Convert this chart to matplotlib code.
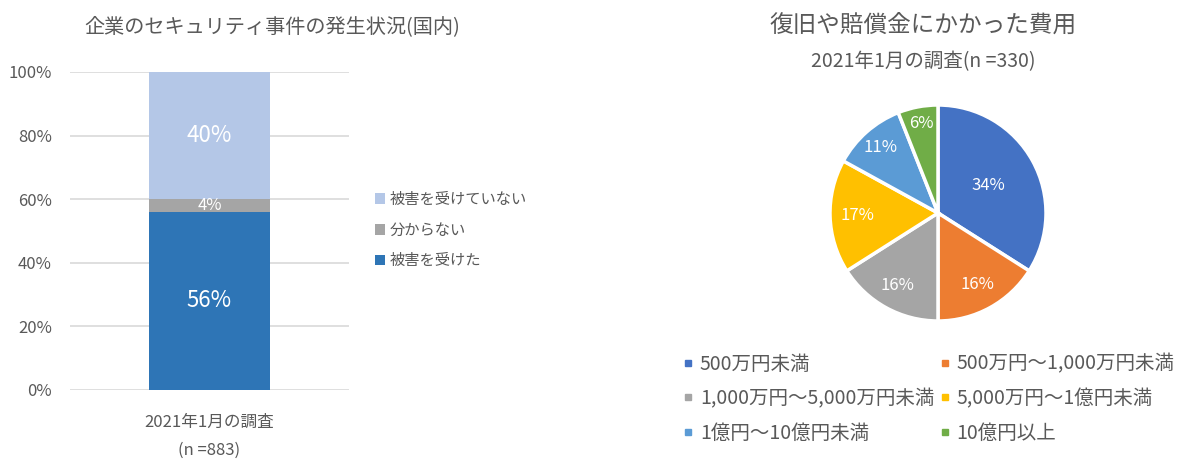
import numpy as np
import matplotlib.pyplot as plt
from matplotlib.lines import Line2D

plt.rcParams['font.family'] = ['Noto Sans CJK JP', 'DejaVu Sans']

TEXT = '#595959'

# left chart: stacked bar
bar_category = '2021年1月の調査\n(n =883)'
bar_series = ['被害を受けた', '分からない', '被害を受けていない']
bar_values = [56, 4, 40]
bar_colors = ['#2E75B6', '#A5A5A5', '#B4C7E7']
bar_title = '企業のセキュリティ事件の発生状況(国内)'

# right chart: pie
pie_labels = ['500万円未満', '500万円～1,000万円未満', '1,000万円～5,000万円未満',
              '5,000万円～1億円未満', '1億円～10億円未満', '10億円以上']
pie_values = [34, 16, 16, 17, 11, 6]
pie_colors = ['#4472C4', '#ED7D31', '#A5A5A5', '#FFC000', '#5B9BD5', '#70AD47']
pie_title = '復旧や賠償金にかかった費用'
pie_subtitle = '2021年1月の調査(n =330)'

# label distance from centre (fraction of radius), like Excel's best fit
label_dist = [0.53, 0.76, 0.77, 0.75, 0.81, 0.84]

W, H = 1200, 471
fig = plt.figure(figsize=(12, 4.71), dpi=100)

# ---- bar chart ----
ax = fig.add_axes([70 / W, (H - 390) / H, 279 / W, 318 / H])
bottom = 0
for name, val, col in zip(bar_series, bar_values, bar_colors):
    ax.bar(0, val, width=0.867, bottom=bottom, color=col, label=name, zorder=3)
    fs = 16 if val > 10 else 12
    ax.text(0, bottom + val / 2, f'{val}%', ha='center', va='center',
            color='white', fontsize=fs, zorder=4)
    bottom += val
ax.set_xlim(-1, 1)
ax.set_ylim(0, 100)
ax.set_yticks(range(0, 101, 20))
ax.set_yticklabels([f'{v}%' for v in range(0, 101, 20)])
ax.set_xticks([0])
ax.set_xticklabels([bar_category], linespacing=1.9)
ax.tick_params(length=0, colors=TEXT, labelsize=12)
ax.tick_params(axis='y', pad=13)
ax.tick_params(axis='x', pad=17)
ax.grid(axis='y', color='#D9D9D9', linewidth=1.2, zorder=0)
for s in ax.spines.values():
    s.set_visible(False)
fig.text(272 / W, 1 - 27 / H, bar_title, ha='center', va='center',
         fontsize=14.5, color=TEXT)

h, l = ax.get_legend_handles_labels()
fig.legend(h[::-1], l[::-1], loc='center left',
           bbox_to_anchor=(361 / W, 1 - 230 / H), frameon=False,
           fontsize=11, labelcolor=TEXT, handlelength=0.7, handleheight=0.7,
           handletextpad=0.3, labelspacing=0.9)

# ---- pie chart ----
r = 108
cx, cy = 938, 213
pax = fig.add_axes([(cx - r) / W, (H - cy - r) / H, 2 * r / W, 2 * r / H])
wedges, _, autotexts = pax.pie(
    pie_values, colors=pie_colors, startangle=90, counterclock=False,
    autopct='%d%%', pctdistance=0.66,
    wedgeprops=dict(edgecolor='white', linewidth=2.5),
    textprops=dict(color='white', fontsize=12))
for w, t, d in zip(wedges, autotexts, label_dist):
    ang = np.deg2rad((w.theta1 + w.theta2) / 2)
    t.set_position((d * np.cos(ang), d * np.sin(ang)))
pax.set_xlim(-1, 1)
pax.set_ylim(-1, 1)
pax.set_aspect('equal')

fig.text(923 / W, 1 - 25 / H, pie_title, ha='center', va='center',
         fontsize=17, color=TEXT)
fig.text(923 / W, 1 - 62 / H, pie_subtitle, ha='center', va='center',
         fontsize=14, color=TEXT)

handles = [Line2D([], [], marker='s', linestyle='', color=c, markersize=5)
           for c in pie_colors]
order = [0, 2, 4, 1, 3, 5]
fig.legend([handles[i] for i in order], [pie_labels[i] for i in order],
           ncol=2, loc='upper left', bbox_to_anchor=(665 / W, 1 - 336 / H),
           frameon=False, fontsize=14, labelcolor=TEXT,
           handlelength=0.6, handletextpad=0.3, columnspacing=0.25,
           labelspacing=0.7)

fig.savefig('out.png', dpi=100, facecolor='white')
